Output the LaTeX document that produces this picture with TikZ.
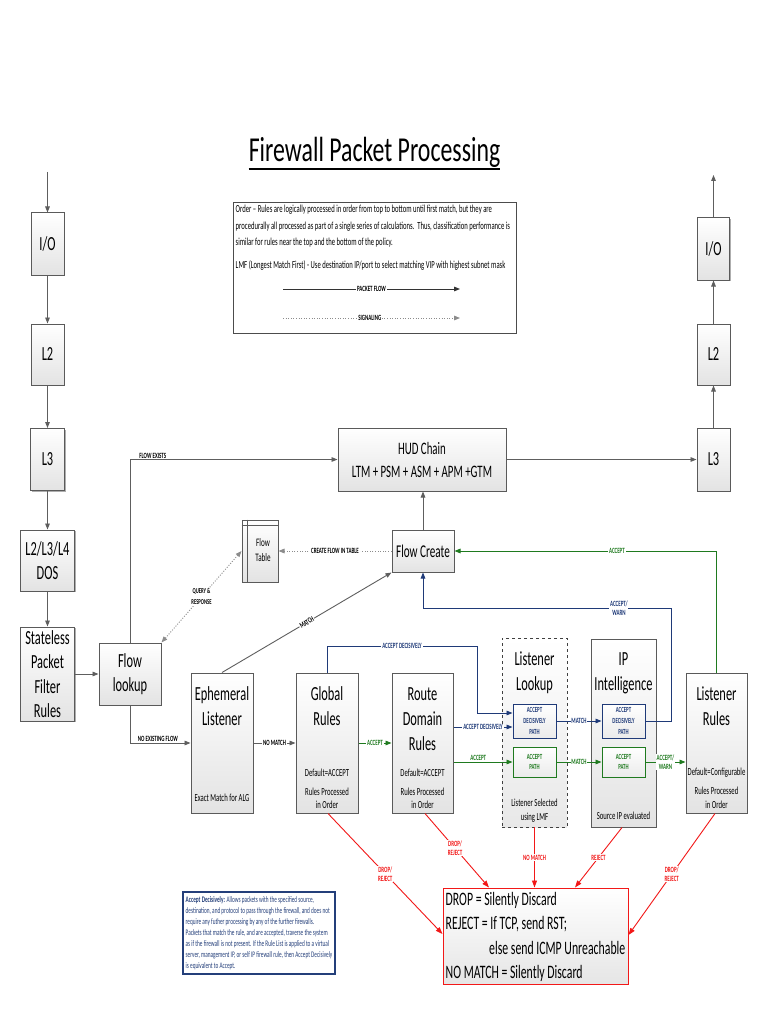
\documentclass[tikz,border=0pt]{standalone}
\usepackage{fontspec}
\setmainfont{Carlito}[FakeStretch=0.62]
\newfontfamily\titlefont{Carlito}[FakeStretch=0.68]
\usetikzlibrary{arrows.meta,shadows,calc}
\definecolor{bordergray}{HTML}{5A5A5A}
\definecolor{linegray}{HTML}{5E5E5E}
\definecolor{fwgreen}{HTML}{1F7A1F}
\definecolor{fwblue}{HTML}{1F3A78}
\definecolor{fwred}{HTML}{F21818}
\definecolor{notenavy}{HTML}{243F7A}
\begin{document}
\begin{tikzpicture}[x=1pt,y=-1pt,
  box/.style={draw=bordergray, line width=1pt, top color=white, bottom color=black!11,
    drop shadow={shadow xshift=1.3pt, shadow yshift=-1.3pt, opacity=.45, fill=black!70},
    inner sep=0pt, align=center},
  big/.style={font=\fontsize{20}{24.5}\selectfont},
  t/.style={anchor=base, inner sep=0pt},
  bigt/.style={t, font=\fontsize{20}{24.5}\selectfont},
  smallt/.style={t, font=\fontsize{10.8}{12.5}\selectfont},
  lab/.style={font=\fontsize{8}{9}\selectfont\bfseries, fill=white, inner sep=0.8pt, align=center},
  labon/.style={font=\fontsize{8}{9}\selectfont\bfseries, anchor=south, inner sep=0.8pt, align=center},
  inner/.style={line width=1pt, top color=white, bottom color=black!8, inner sep=0pt,
    minimum width=43, align=center, font=\fontsize{7.8}{10.7}\selectfont\bfseries},
  flow/.style={draw=linegray, line width=0.9pt, -{Triangle[length=6pt,width=4.6pt]}},
  bflow/.style={draw=fwblue, line width=0.9pt, -{Triangle[length=6pt,width=4.6pt]}},
  gflow/.style={draw=fwgreen, line width=0.9pt, -{Triangle[length=6pt,width=4.6pt]}},
  rflow/.style={draw=fwred, line width=0.9pt, -{Triangle[length=7pt,width=5pt]}},
  sig/.style={draw=black!45, line width=0.9pt, dash pattern=on 1pt off 1.6pt, -{Triangle[length=6pt,width=4.6pt]}},
]
\useasboundingbox[fill=white] (0,0) rectangle (768,1024);

% ---------- title ----------
\node[anchor=base, inner sep=0pt, font=\titlefont\fontsize{35}{40}\selectfont] (title) at (374.5,162) {Firewall Packet Processing};
\draw[line width=2pt] ([yshift=-7pt]title.base west) -- ([yshift=-7pt]title.base east);

% ---------- legend ----------
\node[draw=black!70, line width=1pt, fill=white, minimum width=283, minimum height=130, inner sep=0pt] (legend) at (374.5,268) {};
\begin{scope}[every node/.style={anchor=base west, inner sep=0pt, font=\fontsize{10.75}{12}\selectfont}]
\node (lg1) at (235.5,213) {Order -- Rules are logically processed in order from top to bottom until first match, but they are};
\node (lg2) at (235.5,229.5) {procedurally all processed as part of a single series of calculations.\ \ Thus, classification performance is};
\node (lg3) at (235.5,245.5) {similar for rules near the top and the bottom of the policy.};
\node (lg4) at (235.5,268.5) {LMF (Longest Match First) - Use destination IP/port to select matching VIP with highest subnet mask};
\end{scope}
\coordinate (pfS) at (283,289);
\coordinate (pfE) at (460,289);
\coordinate (sgS) at (283,318);
\coordinate (sgE) at (460,318);
\draw[flow, draw=black!80, line width=1pt] (pfS) -- node[lab, pos=0.5]{PACKET FLOW} (pfE);
\draw[sig] (sgS) -- node[lab, pos=0.49]{SIGNALING} (sgE);

% ---------- left column ----------
\coordinate (inL) at (47.5,172);
\node[box, big, minimum width=33, minimum height=62] (ioL) at (47.5,244) {I/O};
\node[box, big, minimum width=33, minimum height=61] (l2L) at (47.5,354.5) {L2};
\node[box, big, minimum width=34, minimum height=62] (l3L) at (47.5,459.5) {L3};
\node[box, big, minimum width=54, minimum height=61] (dos) at (47.5,560.5) {L2/L3/L4\\DOS};
\node[box, big, minimum width=54, minimum height=94] (spf) at (47.5,674) {Stateless\\Packet\\Filter\\Rules};
\node[box, big, minimum width=62, minimum height=62] (flk) at (130,674) {Flow\\lookup};

% ---------- right column ----------
\coordinate (outR) at (713.5,175);
\node[box, big, minimum width=32, minimum height=62] (ioR) at (713.5,249) {I/O};
\node[box, big, minimum width=33, minimum height=61] (l2R) at (713.5,354.5) {L2};
\node[box, big, minimum width=33, minimum height=63] (l3R) at (713.5,459.5) {L3};

% ---------- HUD / flow ----------
\node[box, minimum width=168, minimum height=63, font=\fontsize{17.5}{23}\selectfont] (hud) at (422,459.5) {HUD Chain\\LTM + PSM + ASM + APM +GTM};
\node[box, minimum width=36, minimum height=62] (ftab) at (260,551) {};
\draw[bordergray, line width=0.8pt] ([yshift=-6pt]ftab.north west) -- ([yshift=-6pt]ftab.north east);
\draw[bordergray, line width=0.8pt] ([xshift=6pt]ftab.north west) -- ([xshift=6pt]ftab.south west);
\node[align=center, inner sep=0pt, font=\fontsize{11.5}{15}\selectfont] (ftabT) at (263,550) {Flow\\Table};
\node[box, minimum width=62, minimum height=42, font=\fontsize{18}{22}\selectfont] (fcr) at (423,551) {Flow Create};

% ---------- rule boxes ----------
\node[box, minimum width=62, minimum height=140] (eph) at (222,743) {};
\node[bigt] (ephA) at (222,700) {Ephemeral};
\node[bigt] (ephB) at (222,725) {Listener};
\node[smallt] (ephC) at (222,801) {Exact Match for ALG};

\node[box, minimum width=62, minimum height=140] (glob) at (327,743) {};
\node[bigt] (globA) at (327,700) {Global};
\node[bigt] (globB) at (327,725) {Rules};
\node[smallt] (globC) at (327,776) {Default=ACCEPT};
\node[smallt] (globD) at (327,795) {Rules Processed};
\node[smallt] (globE) at (327,808) {in Order};

\node[box, minimum width=61, minimum height=140] (route) at (422.5,743) {};
\node[bigt] (routeA) at (422.5,700) {Route};
\node[bigt] (routeB) at (422.5,725) {Domain};
\node[bigt] (routeC) at (422.5,750) {Rules};
\node[smallt] (routeD) at (422.5,776) {Default=ACCEPT};
\node[smallt] (routeE) at (422.5,795) {Rules Processed};
\node[smallt] (routeF) at (422.5,808) {in Order};

\node[draw=black!75, line width=0.9pt, dashed, top color=white, bottom color=black!9, minimum width=65, minimum height=189, inner sep=0pt] (lkp) at (534.5,732.5) {};
\node[bigt] (lkpA) at (534.5,665) {Listener};
\node[bigt] (lkpB) at (534.5,690) {Lookup};
\node[smallt] (lkpC) at (534.5,806) {Listener Selected};
\node[smallt] (lkpD) at (534.5,820) {using LMF};
\node[inner, draw=fwblue, text=fwblue, minimum height=34] (lkADP) at (534.5,721) {ACCEPT\\DECISIVELY\\PATH};
\node[inner, draw=fwgreen, text=fwgreen, minimum height=30] (lkAP) at (534.5,762) {ACCEPT\\PATH};

\node[box, minimum width=65, minimum height=188] (ipi) at (623.5,733) {};
\node[bigt] (ipiA) at (623.5,665) {IP};
\node[bigt] (ipiB) at (623.5,690) {Intelligence};
\node[smallt] (ipiC) at (623.5,819) {Source IP evaluated};
\node[inner, draw=fwblue, text=fwblue, minimum height=34] (ipADP) at (623.5,721) {ACCEPT\\DECISIVELY\\PATH};
\node[inner, draw=fwgreen, text=fwgreen, minimum height=30] (ipAP) at (623.5,762) {ACCEPT\\PATH};

\node[box, minimum width=61, minimum height=140] (lr) at (716.5,743) {};
\node[bigt] (lrA) at (716.5,700) {Listener};
\node[bigt] (lrB) at (716.5,725) {Rules};
\node[smallt] (lrC) at (716.5,775) {Default=Configurable};
\node[smallt] (lrD) at (716.5,794) {Rules Processed};
\node[smallt] (lrE) at (716.5,808) {in Order};

% ---------- result box ----------
\node[draw=fwred, line width=1pt, top color=white, bottom color=black!10, minimum width=185, minimum height=96, inner sep=0pt,
  drop shadow={shadow xshift=1pt, shadow yshift=-1pt, opacity=.3, fill=black!60}] (drop) at (535.5,936) {};
\begin{scope}[every node/.style={anchor=base west, inner sep=0pt, font=\fontsize{19}{24}\selectfont}]
\node (dr1) at (445.5,905) {DROP = Silently Discard};
\node (dr2) at (445.5,929) {REJECT = If TCP, send RST;};
\node (dr3) at (489,954) {else send ICMP Unreachable};
\node (dr4) at (445.5,978.5) {NO MATCH = Silently Discard};
\end{scope}

% ---------- note ----------
\node[draw=notenavy, line width=1.2pt, fill=white, minimum width=152, minimum height=82, inner sep=2pt,
  align=left, text=notenavy, font=\fontsize{8.5}{11}\selectfont] (note) at (259,933)
  {\textbf{Accept Decisively:} Allows packets with the specified source,\\
   destination, and protocol to pass through the firewall, and does not\\
   require any futher processing by any of the further firewalls.\\
   Packets that match the rule, and are accepted, traverse the system\\
   as if the firewall is not present. If the Rule List is applied to a virtual\\
   server, management IP, or self IP firewall rule, then Accept Decisively\\
   is equivalent to Accept.};

% ---------- connectors: columns ----------
\draw[flow] (inL) -- (ioL);
\draw[flow] (ioL) -- (l2L);
\draw[flow] (l2L) -- (l3L);
\draw[flow] (l3L) -- (dos);
\draw[flow] (dos) -- (spf);
\draw[flow] (spf.east) -- (flk.west);
\draw[flow] (l3R) -- (l2R);
\draw[flow] (l2R) -- (ioR);
\draw[flow] (ioR) -- (outR);
\draw[flow] (hud.east) -- (l3R.west);
\draw[flow] (fcr.north) -- (fcr.north |- hud.south);

% ---------- connectors: flow lookup ----------
\draw[flow] (flk.north) |- node[labon, pos=0.555]{FLOW EXISTS} (hud.west);
\draw[flow] (flk.south) |- node[labon, pos=0.73]{NO EXISTING FLOW} (eph.west);
\draw[sig, {Triangle[length=6pt,width=4.6pt]}-{Triangle[length=6pt,width=4.6pt]}] (flk.north east) -- node[lab, font=\fontsize{7.5}{11}\selectfont\bfseries]{QUERY \&\\RESPONSE} (ftab.west);
\draw[sig] (fcr.west) -- node[lab]{CREATE FLOW IN TABLE} (ftab.east);
\draw[flow] (eph.north) -- node[lab, sloped]{MATCH} (fcr.south west);

% ---------- connectors: rules ----------
\draw[flow] (eph.east) -- node[lab]{NO MATCH} (glob.west);
\draw[gflow] (glob.east) -- node[lab, text=fwgreen]{ACCEPT} (route.west);
\draw[bflow] (glob.north) -- (327,646) -- node[lab, text=fwblue]{ACCEPT DECISIVELY} (477,646) -- (477,713) -- (lkADP.west |- 0,713);
\draw[bflow] (route.east |- 0,727) -- node[lab, text=fwblue]{ACCEPT DECISIVELY} (lkADP.west |- 0,727);
\draw[gflow] (route.east |- lkAP) -- node[labon, text=fwgreen, pos=0.42]{ACCEPT} (lkAP.west);
\draw[bflow] (lkADP.east) -- node[lab, text=fwblue]{MATCH} (ipADP.west);
\draw[gflow] (lkAP.east) -- node[lab, text=fwgreen]{MATCH} (ipAP.west);
\draw[gflow] (ipAP.east) -- node[lab, text=fwgreen]{ACCEPT/\\WARN} (lr.west |- ipAP);
\draw[bflow] (ipADP.east) -- (671,721) -- (671,608) -- node[lab, text=fwblue, pos=0.21]{ACCEPT/\\WARN} (fcr.south |- 0,608) -- (fcr.south);
\draw[gflow] (lr.north) |- node[lab, text=fwgreen, pos=0.69]{ACCEPT} (fcr.east);

% ---------- connectors: rejects ----------
\draw[rflow] ($(glob.south)+(1,0)$) -- node[lab, text=fwred]{DROP/\\REJECT} (drop.west |- 0,934);
\draw[rflow] ($(route.south)+(2.5,0)$) -- node[lab, text=fwred, pos=0.47]{DROP/\\REJECT} (drop.north -| 489,0);
\draw[rflow] (lkp.south) -- node[lab, text=fwred]{NO MATCH} (drop.north -| lkp.south);
\draw[rflow] ($(ipi.south)+(-1.5,0)$) -- node[lab, text=fwred]{REJECT} (drop.north -| 575,0);
\draw[rflow] ($(lr.south)+(-1.5,0)$) -- node[lab, text=fwred]{DROP/\\REJECT} (drop.east |- 0,935);
\end{tikzpicture}
\end{document}
